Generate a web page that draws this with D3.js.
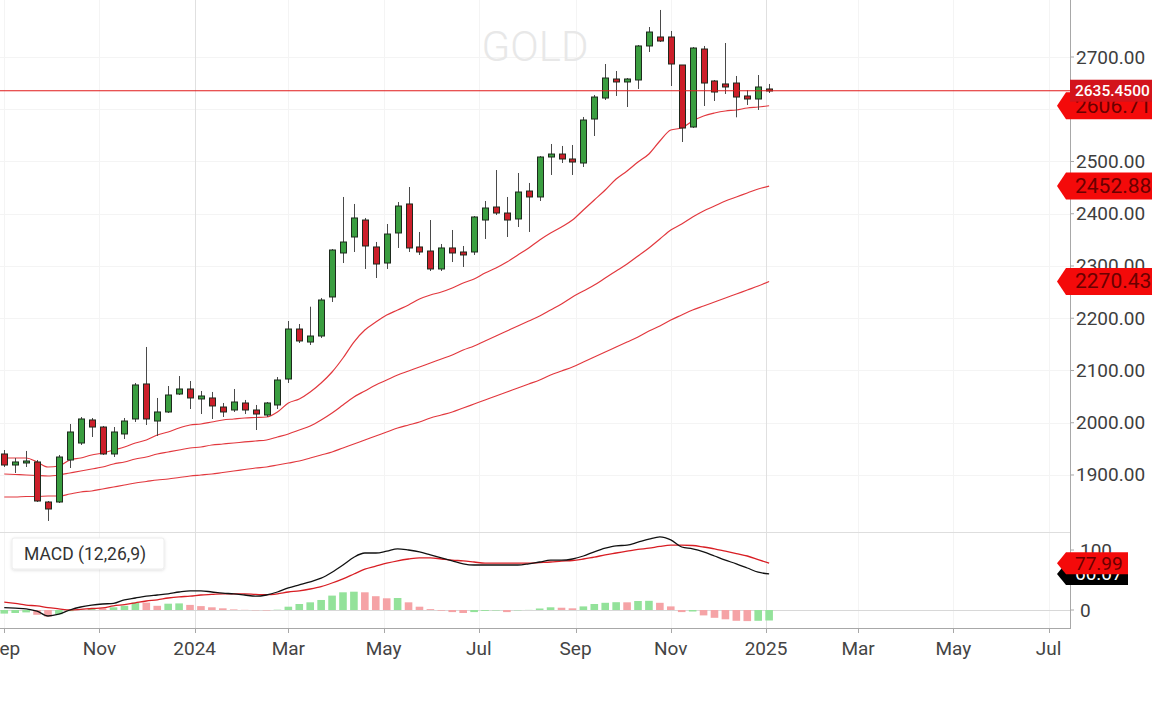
<!DOCTYPE html>
<html><head><meta charset="utf-8">
<script src="https://cdn.jsdelivr.net/npm/d3@7"></script>
<style>html,body{margin:0;padding:0;background:#fff;overflow:hidden}svg{display:block;font-family:Roboto,"Noto Sans",sans-serif}</style>
</head><body><svg id="c" width="1152" height="720"></svg>
<script>
// ---- DATA ----
const title = "GOLD";
const weekDates = ["2023-09-01","2023-09-08","2023-09-15","2023-09-22","2023-09-29","2023-10-06","2023-10-13","2023-10-20","2023-10-27","2023-11-03",
"2023-11-10","2023-11-17","2023-11-24","2023-12-01","2023-12-08","2023-12-15","2023-12-22","2023-12-29","2024-01-05","2024-01-12",
"2024-01-19","2024-01-26","2024-02-02","2024-02-09","2024-02-16","2024-02-23","2024-03-01","2024-03-08","2024-03-15","2024-03-22",
"2024-03-29","2024-04-05","2024-04-12","2024-04-19","2024-04-26","2024-05-03","2024-05-10","2024-05-17","2024-05-24","2024-05-31",
"2024-06-07","2024-06-14","2024-06-21","2024-06-28","2024-07-05","2024-07-12","2024-07-19","2024-07-26","2024-08-02","2024-08-09",
"2024-08-16","2024-08-23","2024-08-30","2024-09-06","2024-09-13","2024-09-20","2024-09-27","2024-10-04","2024-10-11","2024-10-18",
"2024-10-25","2024-11-01","2024-11-08","2024-11-15","2024-11-22","2024-11-29","2024-12-06","2024-12-13","2024-12-20","2024-12-27",
"2025-01-03"];
const open = [1940.2,1919.1,1923.0,1924.9,1848.3,1848.3,1928.7,1961.2,2005.3,1991.8,
1940.2,1978.5,2007.2,2074.2,2003.3,2020.6,2055.0,2064.6,2045.5,2047.4,
2030.1,2024.4,2037.8,2024.4,2014.8,2034.0,2083.7,2179.4,2154.5,2166.0,
2240.7,2324.9,2355.5,2388.0,2336.4,2305.7,2363.2,2418.7,2336.4,2328.7,
2294.3,2334.5,2326.8,2326.8,2388.0,2412.9,2401.4,2390.0,2443.5,2432.1,
2508.6,2514.3,2504.8,2497.1,2581.3,2621.5,2657.9,2652.2,2656.0,2721.1,
2738.3,2738.3,2684.7,2566.0,2715.3,2654.1,2648.4,2650.2,2625.4,2619.6,
2638.8];
const high = [1947.8,1932.5,1946.0,1928.7,1850.2,1938.3,1997.6,2011.0,2009.1,1993.8,
1991.8,2009.1,2076.1,2145.0,2047.4,2070.3,2089.4,2079.9,2060.8,2058.9,
2037.8,2064.6,2043.6,2034.0,2039.7,2087.5,2194.7,2189.0,2222.1,2238.8,
2332.5,2432.1,2418.7,2391.9,2346.0,2380.4,2422.5,2451.2,2365.1,2388.0,
2342.1,2368.9,2338.3,2395.7,2424.4,2483.7,2432.1,2478.0,2458.9,2510.5,
2533.5,2529.7,2531.6,2585.2,2627.3,2686.6,2673.2,2659.8,2723.0,2757.4,
2790.0,2749.8,2684.7,2719.1,2721.1,2656.0,2726.8,2663.7,2636.8,2665.5,
2648.4];
const low = [1915.3,1903.8,1915.3,1848.3,1812.0,1846.4,1913.4,1957.4,1972.7,1938.3,
1934.4,1968.9,2001.4,1995.7,1974.6,2018.7,2053.1,2026.3,2016.7,2007.2,
2011.0,2020.6,2016.7,1986.1,2011.0,2026.3,2076.1,2152.6,2148.8,2162.2,
2231.1,2305.7,2326.8,2294.3,2277.0,2294.3,2334.5,2326.8,2321.1,2290.4,
2290.4,2307.6,2298.1,2321.1,2351.7,2397.6,2355.5,2374.6,2365.1,2424.4,
2474.2,2497.1,2474.2,2489.5,2548.8,2617.7,2625.4,2604.3,2638.8,2709.6,
2728.7,2644.5,2537.3,2564.1,2606.2,2615.8,2629.2,2584.6,2608.1,2598.6,
2631.1];
const close = [1919.1,1924.9,1926.8,1850.2,1834.9,1934.4,1982.3,2007.2,1991.8,1940.2,
1982.3,2003.3,2072.3,2007.2,2020.6,2053.1,2064.6,2047.4,2051.2,2032.1,
2020.6,2039.7,2024.4,2016.7,2037.8,2081.8,2179.4,2156.5,2166.0,2234.9,
2330.6,2345.9,2391.9,2338.3,2303.8,2361.2,2414.8,2334.5,2326.8,2294.3,
2334.5,2324.9,2321.1,2393.8,2411.0,2401.4,2388.0,2441.6,2432.1,2508.6,
2514.3,2504.8,2499.0,2579.4,2623.4,2659.8,2652.2,2657.9,2721.1,2747.8,
2730.6,2686.6,2564.1,2717.2,2650.2,2633.0,2642.6,2623.4,2619.6,2642.6,
2635.45];
const maFast = [1932.5,1932.5,1932.5,1924.9,1915.3,1917.2,1928.7,1932.5,1938.3,1942.1,
1947.8,1953.6,1961.2,1967.0,1976.5,1982.3,1989.9,1995.7,1997.6,2001.4,
2005.3,2007.2,2009.1,2010.0,2011.0,2020.6,2037.8,2045.5,2058.9,2076.1,
2097.1,2123.9,2154.5,2177.5,2192.8,2206.2,2215.8,2225.4,2236.8,2244.5,
2250.2,2257.9,2267.4,2275.1,2286.6,2296.2,2307.6,2321.0,2334.5,2349.8,
2363.2,2374.6,2388.0,2407.2,2426.3,2445.5,2466.5,2481.9,2499.0,2514.4,
2539.2,2560.3,2564.1,2577.5,2587.1,2592.8,2596.7,2598.6,2602.4,2604.3,
2606.713];
const maMid = [1901.9,1900.9,1900.0,1899.0,1898.1,1900.0,1903.8,1907.6,1911.5,1915.3,
1921.1,1924.9,1930.6,1934.4,1940.2,1944.0,1947.8,1951.7,1953.6,1957.4,
1959.3,1961.2,1963.2,1965.1,1967.0,1972.7,1978.5,1986.1,1993.8,2005.3,
2018.7,2034.0,2049.3,2060.8,2072.3,2081.8,2091.4,2099.1,2106.7,2114.4,
2122.0,2129.7,2139.2,2146.9,2156.5,2166.0,2175.6,2185.2,2194.7,2204.3,
2215.8,2227.3,2240.7,2252.2,2263.6,2277.0,2290.4,2303.8,2319.1,2334.5,
2351.7,2368.9,2380.4,2393.8,2405.3,2414.8,2424.4,2432.1,2439.7,2447.4,
2452.886];
const maSlow = [1857.9,1857.9,1858.8,1858.8,1859.8,1859.8,1863.6,1867.5,1869.4,1873.2,
1877.0,1880.8,1884.7,1887.5,1890.4,1892.3,1895.2,1898.1,1900.0,1901.9,
1904.8,1907.6,1910.5,1913.4,1915.3,1919.1,1923.0,1926.8,1932.5,1938.3,
1944.0,1951.7,1959.3,1967.0,1974.6,1982.3,1989.9,1995.7,2001.4,2009.1,
2014.8,2020.6,2028.2,2035.9,2043.6,2051.2,2058.9,2066.5,2074.2,2081.8,
2091.4,2099.1,2106.7,2116.3,2125.9,2135.4,2145.0,2154.5,2164.1,2175.6,
2185.2,2196.6,2206.2,2215.8,2223.4,2231.1,2238.8,2246.4,2254.1,2261.7,
2270.432];
const macdLine = [4,3,2,-2,-10,-7,0,5,8,10,
11,17,20,23,25,27,30,32,32,30,
28,27,25,23,25,30,37,42,47,53,
63,75,88,95,95,98,102,100,97,92,
87,82,77,75,75,75,75,75,77,80,
83,83,85,90,97,103,107,108,113,118,
122,117,105,102,97,90,83,77,70,63,
60.07];
const signalLine = [13,11,8,7,4,2,0,1,2.5,3.5,
7,9,12,15,17,20,22,23,25,26,
27,27,27,26,25.5,27,30,32,35,39,
45,52,60,68,73,78,82,85,87,87,
85,83,82,80,78,78,78,78,78,79,
80,81.5,82.5,85,88,92,95,98,101,103,
106,108,108,107.5,105,102,98,94,90,84,
77.99];
const histogram = [-6,-5,-4,-8,-11,-7,-2,1,3,2.5,
4.5,7,12.5,12.3,7,10.5,11,8.5,6.5,4.5,
2.8,1,0.3,-0.5,-0.8,0.5,5.5,10,12.8,16.7,
24,29.5,30.5,29.5,23,19.5,20,12.8,5.5,1.5,
-1,-3.5,-5,-3.5,-1.5,-0.8,-3.5,-0.5,0.2,2.5,
4.5,3.8,2.8,6,10,12,13,12.8,15,15.3,
12,6,-3.5,-2.5,-9,-13,-15.5,-18,-18.5,-18,
-17.5];
const priceTicks = [1900,2000,2100,2200,2300,2400,2500,2600,2700];
const macdTicks = [0,100];
const macdLegend = "MACD (12,26,9)";

// ---- LAYOUT ----
const svg = d3.select("#c");
const plotR = 1070, priceBot = 531, macdTop = 532, macdBot = 628;
const parse = d3.timeParse("%Y-%m-%d");
const dates = weekDates.map(parse);
const xRef = d3.scaleTime().domain([new Date(2024,0,1), new Date(2025,0,1)]).range([194.7, 766.0]);
const x = d3.scaleTime().domain([xRef.invert(0), xRef.invert(plotR)]).range([0, plotR]);
const y = d3.scaleLinear().domain([1792.8, 2809.1]).range([priceBot, 0]);
const ym = d3.scaleLinear().domain([-30, 130]).range([macdBot, macdTop]);

const defs = svg.append("defs");
defs.append("clipPath").attr("id","cp").append("rect").attr("x",0).attr("y",0).attr("width",plotR).attr("height",priceBot);
defs.append("clipPath").attr("id","cm").append("rect").attr("x",0).attr("y",macdTop).attr("width",plotR).attr("height",macdBot-macdTop);
const sh = defs.append("filter").attr("id","sh").attr("x","-20%").attr("y","-30%").attr("width","140%").attr("height","160%");
sh.append("feDropShadow").attr("dx",0).attr("dy",1).attr("stdDeviation",1.6).attr("flood-color","#000").attr("flood-opacity",0.13);

const xTicks = x.ticks(d3.timeMonth.every(2));
const fmtX = d => d.getMonth() === 0 ? d3.timeFormat("%Y")(d) : d3.timeFormat("%b")(d);

// gridlines
svg.append("g").selectAll("line").data(priceTicks).join("line")
  .attr("x1",0).attr("x2",plotR).attr("y1",d=>Math.round(y(d))+0.5).attr("y2",d=>Math.round(y(d))+0.5)
  .attr("stroke","#f4f4f4");
svg.append("g").selectAll("line").data(xTicks).join("line")
  .attr("x1",d=>Math.round(x(d))+0.5).attr("x2",d=>Math.round(x(d))+0.5).attr("y1",0).attr("y2",macdBot)
  .attr("stroke",d=>d.getMonth()===0?"#e0e0e0":"#f4f4f4");

// watermark
svg.append("text").attr("x",535).attr("y",46).attr("text-anchor","middle").attr("dominant-baseline","central")
  .attr("font-size",42).attr("font-weight",300).attr("fill","#e8e8e8").text(title);

// panel separator
svg.append("line").attr("x1",0).attr("x2",plotR).attr("y1",macdTop+0.5).attr("y2",macdTop+0.5).attr("stroke","#dedede");

// moving averages
const gp = svg.append("g").attr("clip-path","url(#cp)");
[maSlow, maMid, maFast].forEach(arr => {
  gp.append("path").datum(arr)
    .attr("d", d3.line().x((d,i)=>x(dates[i])).y(d=>y(d)).curve(d3.curveMonotoneX))
    .attr("fill","none").attr("stroke","#e2383e").attr("stroke-width",1.2);
});

// candles
const idx = d3.range(dates.length);
const cg = gp.append("g");
cg.selectAll("line").data(idx).join("line")
  .attr("x1",i=>Math.round(x(dates[i]))+0.5).attr("x2",i=>Math.round(x(dates[i]))+0.5)
  .attr("y1",i=>y(high[i])).attr("y2",i=>y(low[i]))
  .attr("stroke","#4a4a4a").attr("stroke-width",1);
cg.selectAll("rect").data(idx).join("rect")
  .attr("x",i=>Math.round(x(dates[i]))-2.5).attr("width",6)
  .attr("y",i=>y(Math.max(open[i],close[i])))
  .attr("height",i=>Math.max(2, Math.abs(y(open[i])-y(close[i]))))
  .attr("fill",i=>close[i]>=open[i]?"#3a9e40":"#cc1f2a")
  .attr("stroke","#1d2a1d").attr("stroke-width",1);

// current price line
const last = close[close.length-1];
svg.append("line").attr("x1",0).attr("x2",plotR).attr("y1",y(last)).attr("y2",y(last))
  .attr("stroke","#e01a1a").attr("stroke-width",1.2);

// MACD panel
const gm = svg.append("g").attr("clip-path","url(#cm)");
gm.append("line").attr("x1",0).attr("x2",plotR).attr("y1",Math.round(ym(0))+0.5).attr("y2",Math.round(ym(0))+0.5).attr("stroke","#d8d8d8");
gm.selectAll("rect").data(idx).join("rect")
  .attr("x",i=>x(dates[i])-3.8).attr("width",7.6)
  .attr("y",i=>Math.min(ym(0),ym(histogram[i])))
  .attr("height",i=>Math.abs(ym(histogram[i])-ym(0)))
  .attr("fill",i=>(i===0||histogram[i]>=histogram[i-1])?"#93e29a":"#f5a3a6");
gm.append("path").datum(signalLine)
  .attr("d", d3.line().x((d,i)=>x(dates[i])).y(d=>ym(d)).curve(d3.curveMonotoneX))
  .attr("fill","none").attr("stroke","#d81e24").attr("stroke-width",1.3);
gm.append("path").datum(macdLine)
  .attr("d", d3.line().x((d,i)=>x(dates[i])).y(d=>ym(d)).curve(d3.curveMonotoneX))
  .attr("fill","none").attr("stroke","#111").attr("stroke-width",1.3);

// legend box
svg.append("rect").attr("x",12).attr("y",538).attr("width",152).attr("height",31).attr("rx",2)
  .attr("fill","#fff").attr("stroke","#ececec").attr("filter","url(#sh)");
svg.append("text").attr("x",24).attr("y",554).attr("dominant-baseline","central")
  .attr("font-size",17.5).attr("fill","#333").text(macdLegend);

// axes
svg.append("line").attr("x1",plotR+0.5).attr("x2",plotR+0.5).attr("y1",0).attr("y2",macdBot).attr("stroke","#a8a8a8");
svg.append("line").attr("x1",0).attr("x2",plotR+1).attr("y1",macdBot+0.5).attr("y2",macdBot+0.5).attr("stroke","#a8a8a8");
const yax = svg.append("g");
yax.selectAll("line").data(priceTicks).join("line")
  .attr("x1",plotR).attr("x2",plotR+4).attr("y1",d=>y(d)).attr("y2",d=>y(d)).attr("stroke","#a8a8a8");
yax.selectAll("text").data(priceTicks).join("text")
  .attr("x",plotR+6).attr("y",d=>y(d)).attr("dominant-baseline","central")
  .attr("font-size",19).attr("fill","#3e3e3e").text(d=>d3.format(".2f")(d));
const mAx = svg.append("g");
mAx.selectAll("line").data(macdTicks).join("line")
  .attr("x1",plotR).attr("x2",plotR+4).attr("y1",d=>ym(d)).attr("y2",d=>ym(d)).attr("stroke","#a8a8a8");
mAx.selectAll("text").data(macdTicks).join("text")
  .attr("x",plotR+10).attr("y",d=>ym(d)).attr("dominant-baseline","central")
  .attr("font-size",19).attr("fill","#3e3e3e").text(d=>d);
const xax = svg.append("g");
xax.selectAll("line").data(xTicks).join("line")
  .attr("x1",d=>Math.round(x(d))+0.5).attr("x2",d=>Math.round(x(d))+0.5).attr("y1",macdBot).attr("y2",macdBot+5).attr("stroke","#a8a8a8");
xax.selectAll("text").data(xTicks).join("text")
  .attr("x",d=>x(d)).attr("y",648).attr("text-anchor","middle").attr("dominant-baseline","central")
  .attr("font-size",19).attr("fill","#444").text(fmtX);

// tags
function tag(yc, label, fill, tfill, x1, h, fs){
  const x0 = 1057, p = 9;
  svg.append("path").attr("d",`M${x0},${yc} L${x0+p},${yc-h/2} L${x1},${yc-h/2} L${x1},${yc+h/2} L${x0+p},${yc+h/2} Z`)
    .attr("fill",fill);
  svg.append("text").attr("x",1075).attr("y",yc).attr("dominant-baseline","central")
    .attr("font-size",fs).attr("fill",tfill).text(label);
}
const lastI = dates.length-1;
tag(y(maSlow[lastI]), d3.format(".3f")(maSlow[lastI]), "#f40a0a", "#6a0000", 1152, 27, 21);
tag(y(maMid[lastI]), d3.format(".3f")(maMid[lastI]), "#f40a0a", "#6a0000", 1152, 27, 21);
tag(y(maFast[lastI]), d3.format(".3f")(maFast[lastI]), "#f40a0a", "#6a0000", 1152, 27, 21);
// current price label
svg.append("rect").attr("x",plotR).attr("y",y(last)-11).attr("width",1152-plotR).attr("height",22).attr("fill","#d3141c");
svg.append("text").attr("x",1075).attr("y",y(last)+0.5).attr("dominant-baseline","central")
  .attr("font-size",15.5).attr("font-weight",500).attr("fill","#fff").text(d3.format(".4f")(last));
// MACD tags
tag(ym(macdLine[lastI]), d3.format(".2f")(macdLine[lastI]), "#000", "#fff", 1128, 22, 19);
tag(ym(signalLine[lastI]), d3.format(".2f")(signalLine[lastI]), "#f40a0a", "#6a0000", 1128, 22, 19);
</script></body></html>
